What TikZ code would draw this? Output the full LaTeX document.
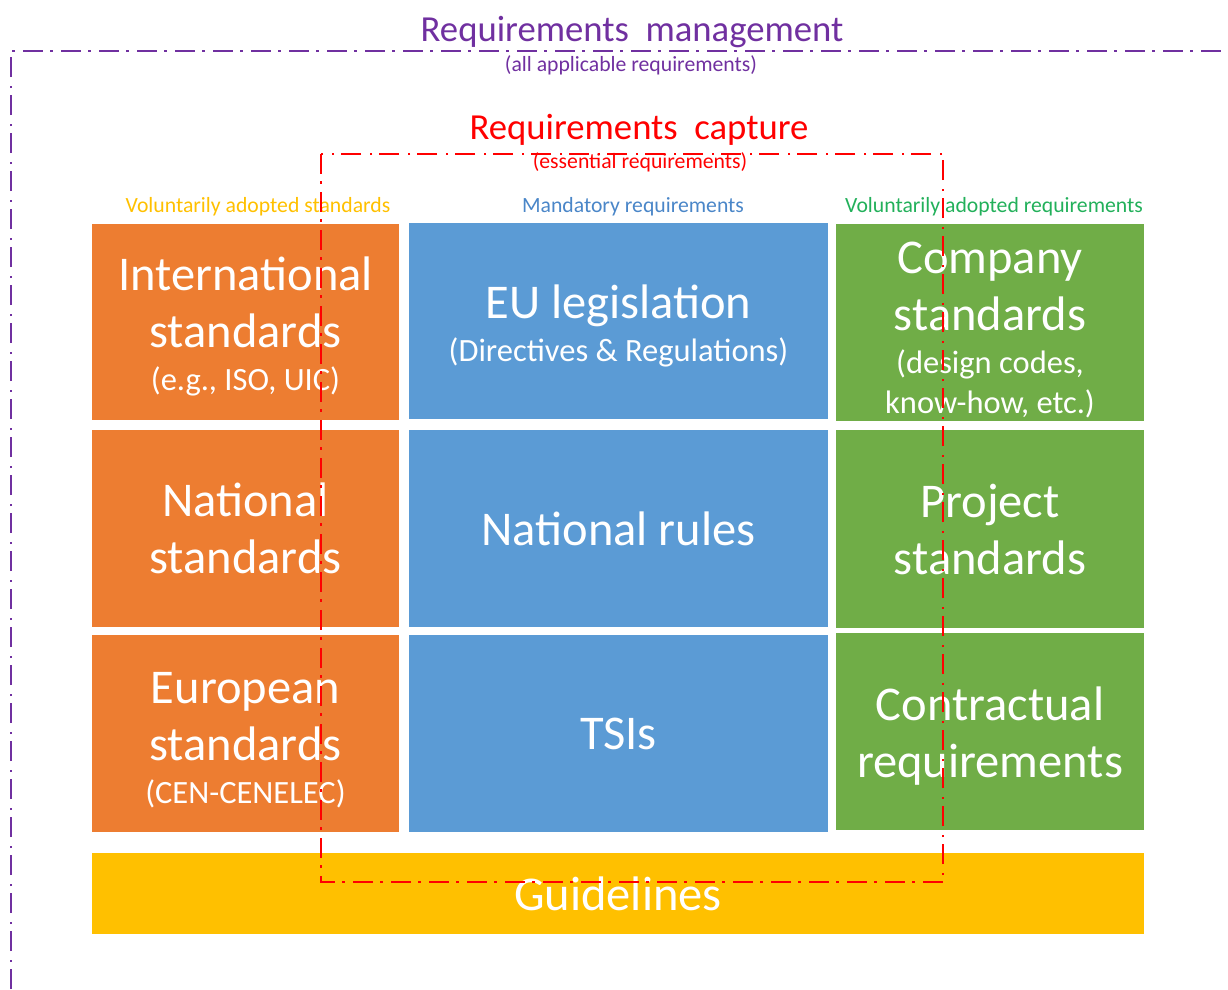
\documentclass[tikz,border=0pt]{standalone}
\usepackage{fontspec}
\setmainfont{Carlito}
\definecolor{mgmtpurple}{HTML}{7030A0}
\definecolor{capred}{HTML}{FF0000}
\definecolor{boxorange}{HTML}{ED7D31}
\definecolor{boxblue}{HTML}{5B9BD5}
\definecolor{boxgreen}{HTML}{70AD47}
\definecolor{boxyellow}{HTML}{FFC000}
\definecolor{hdrblue}{HTML}{4A86C8}
\definecolor{hdrgreen}{HTML}{22B05A}
\newcommand{\subtxt}[1]{{\fontsize{32.5}{39}\selectfont #1}}
\newcommand{\padtop}[1]{\rule{0pt}{#1pt}}

\begin{document}
\begin{tikzpicture}[x=1pt, y=-1pt,
    box/.style={rectangle, fill=#1, text=white, align=center, inner sep=0pt,
        font=\fontsize{48.5}{57}\selectfont},
    hdr/.style={anchor=base, text=#1, font=\fontsize{21.7}{25}\selectfont},
    title/.style={anchor=base, text=#1, font=\fontsize{36.7}{44}\selectfont},
    frame/.style={draw=#1, dash pattern=on 20pt off 7pt on 2.5pt off 8.5pt}]
    \useasboundingbox (0,0) rectangle (1228,989);

    \node[title=mgmtpurple] (mgmt) at (632,41) {Requirements\ \ management};
    \node[hdr=mgmtpurple] (mgmtsub) at (631,71) {(all applicable requirements)};
    \node[title=capred] (cap) at (639,139) {Requirements\ \ capture};
    \node[hdr=capred] (capsub) at (640,168) {(essential requirements)};

    \node[hdr=boxyellow] (volstd) at (258,212) {Voluntarily adopted standards};
    \node[hdr=hdrblue] (mand) at (633,212) {Mandatory requirements};
    \node[hdr=hdrgreen] (volreq) at (994,212) {Voluntarily adopted requirements};

    \node[box=boxorange, minimum width=307pt, minimum height=196pt] (intl) at (245.5,322)
        {\padtop{43}International\\ standards\\[-14pt] \subtxt{(e.g., ISO, UIC)}};
    \node[box=boxorange, minimum width=307pt, minimum height=197pt] (natstd) at (245.5,528.5)
        {National\\ standards};
    \node[box=boxorange, minimum width=307pt, minimum height=197pt] (eurstd) at (245.5,733.5)
        {\padtop{45}European\\ standards\\[-14pt] \subtxt{(CEN-CENELEC)}};

    \node[box=boxblue, minimum width=419pt, minimum height=196pt] (eulaw) at (618.5,321)
        {\padtop{44}EU legislation\\[-14pt] \subtxt{(Directives \& Regulations)}};
    \node[box=boxblue, minimum width=419pt, minimum height=197pt] (natrules) at (618.5,528.5)
        {National rules};
    \node[box=boxblue, minimum width=419pt, minimum height=197pt] (tsis) at (618.5,733.5)
        {TSIs};

    \node[box=boxgreen, minimum width=308pt, minimum height=197pt] (compstd) at (990,322.5)
        {\padtop{46}Company\\ standards\\[-14pt] \subtxt{(design codes,}\\[-17pt] \subtxt{know-how, etc.)}};
    \node[box=boxgreen, minimum width=308pt, minimum height=198pt] (projstd) at (990,529)
        {Project\\ standards};
    \node[box=boxgreen, minimum width=308pt, minimum height=197pt] (contract) at (990,731.5)
        {\padtop{42}Contractual\\ requirements};

    \node[box=boxyellow, minimum width=1052pt, minimum height=81pt] (guide) at (618,893.5)
        {Guidelines};

    \coordinate (mgmtA) at (11,989);
    \coordinate (mgmtB) at (11,51);
    \coordinate (mgmtC) at (1228,51);
    \draw[frame=mgmtpurple, line width=2pt] (mgmtA) -- (mgmtB) -- (mgmtC);

    \coordinate (capNW) at (321,154);
    \coordinate (capSE) at (943,882);
    \draw[frame=capred, line width=2.8pt] (capNW) rectangle (capSE);
\end{tikzpicture}
\end{document}
